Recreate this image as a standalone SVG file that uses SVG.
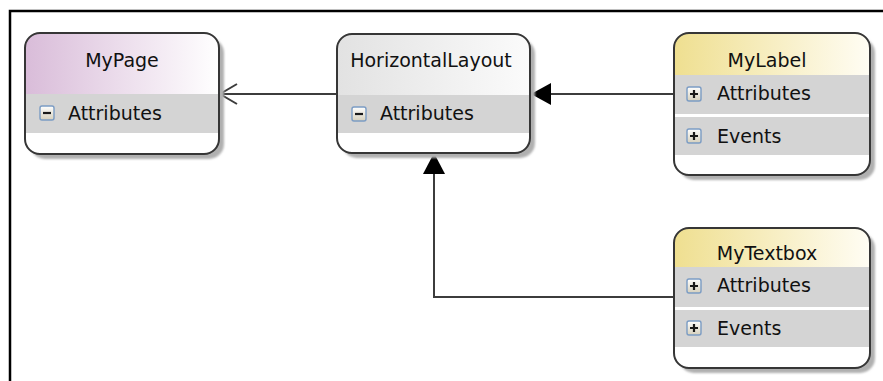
<svg xmlns="http://www.w3.org/2000/svg" width="883" height="381" viewBox="0 0 883 381">
  <style>
    .frame { stroke: #000; stroke-width: 2.5; fill: none; }
    .shadow { fill: #b0b0b0; filter: url(#soft); }
    .body { fill: #fff; }
    .outline { fill: none; stroke: #363636; stroke-width: 2; }
    .row { fill: #d4d4d4; }
    .title { font-family: "DejaVu Sans", "Liberation Sans", sans-serif; font-size: 19px; fill: #111; text-anchor: middle; }
    .item { font-family: "DejaVu Sans", "Liberation Sans", sans-serif; font-size: 19px; fill: #111; }
    .icon { fill: url(#iconFill); stroke: #7b9cc4; stroke-width: 1.4; }
    .sign { stroke: #1a1a1a; stroke-width: 2.2; }
    .wire { fill: none; stroke: #3c3c3c; stroke-width: 2; }
    .head { fill: #000; stroke: none; }
    .open { fill: none; stroke: #3c3c3c; stroke-width: 2; }
  </style>
  <defs>
    <filter id="soft" x="-10%" y="-10%" width="120%" height="120%">
      <feGaussianBlur stdDeviation="1.2"/>
    </filter>
    <linearGradient id="hdrPurple" x1="0" y1="0" x2="1" y2="0">
      <stop offset="0" stop-color="#d9bcd9"/>
      <stop offset="1" stop-color="#ffffff"/>
    </linearGradient>
    <linearGradient id="hdrGray" x1="0" y1="0" x2="1" y2="0">
      <stop offset="0" stop-color="#e2e2e2"/>
      <stop offset="1" stop-color="#fbfbfb"/>
    </linearGradient>
    <linearGradient id="hdrYellow" x1="0" y1="0" x2="1" y2="0">
      <stop offset="0" stop-color="#efdf90"/>
      <stop offset="1" stop-color="#fffdf4"/>
    </linearGradient>
    <linearGradient id="iconFill" x1="0" y1="0" x2="0" y2="1">
      <stop offset="0" stop-color="#ffffff"/>
      <stop offset="1" stop-color="#d6d0bc"/>
    </linearGradient>
    <clipPath id="clipPage"><rect x="25" y="33" width="194" height="121" rx="15"/></clipPath>
    <clipPath id="clipLayout"><rect x="337" y="34" width="193" height="119" rx="15"/></clipPath>
    <clipPath id="clipLabel"><rect x="674" y="33" width="196" height="142" rx="15"/></clipPath>
    <clipPath id="clipTextbox"><rect x="674" y="228" width="196" height="140" rx="15"/></clipPath>
  </defs>

  <rect width="883" height="381" fill="#fff"/>

  <!-- outer frame: top and left edges -->
  <path class="frame" d="M10 381 V11 H883"/>

  <!-- connectors -->
  <g id="connectors">
    <!-- HorizontalLayout to MyPage -->
    <path class="wire" d="M337 94 H220"/>
    <polyline class="open" points="237,84 220,94 237,104"/>
    <!-- MyLabel to HorizontalLayout -->
    <path class="wire" d="M674 94 H548"/>
    <polygon class="head" points="531,94 551,83 551,105"/>
    <!-- MyTextbox to HorizontalLayout -->
    <path class="wire" d="M674 297 H434 V172"/>
    <polygon class="head" points="434,153 423,174 445,174"/>
  </g>

  <!-- MyPage -->
  <g id="node-mypage">
    <rect class="shadow" x="30" y="38" width="194" height="121" rx="15"/>
    <rect class="body" x="25" y="33" width="194" height="121" rx="15"/>
    <g clip-path="url(#clipPage)">
      <rect x="25" y="33" width="194" height="61" fill="url(#hdrPurple)"/>
      <rect class="row" x="25" y="94" width="194" height="39"/>
    </g>
    <rect class="outline" x="25" y="33" width="194" height="121" rx="15"/>
    <text class="title" x="122" y="67">MyPage</text>
    <rect class="icon" x="40" y="106" width="14" height="14" rx="2"/>
    <path class="sign" d="M43 113 H51"/>
    <text class="item" x="68" y="120">Attributes</text>
  </g>

  <!-- HorizontalLayout -->
  <g id="node-horizontallayout">
    <rect class="shadow" x="342" y="39" width="193" height="119" rx="15"/>
    <rect class="body" x="337" y="34" width="193" height="119" rx="15"/>
    <g clip-path="url(#clipLayout)">
      <rect x="337" y="34" width="193" height="61" fill="url(#hdrGray)"/>
      <rect class="row" x="337" y="95" width="193" height="38"/>
    </g>
    <rect class="outline" x="337" y="34" width="193" height="119" rx="15"/>
    <text class="title" x="431" y="67">HorizontalLayout</text>
    <rect class="icon" x="352" y="107" width="14" height="14" rx="2"/>
    <path class="sign" d="M355 114 H363"/>
    <text class="item" x="380" y="120">Attributes</text>
  </g>

  <!-- MyLabel -->
  <g id="node-mylabel">
    <rect class="shadow" x="679" y="38" width="196" height="142" rx="15"/>
    <rect class="body" x="674" y="33" width="196" height="142" rx="15"/>
    <g clip-path="url(#clipLabel)">
      <rect x="674" y="33" width="196" height="42" fill="url(#hdrYellow)"/>
      <rect class="row" x="674" y="75" width="196" height="39"/>
      <rect class="row" x="674" y="117" width="196" height="38"/>
    </g>
    <rect class="outline" x="674" y="33" width="196" height="142" rx="15"/>
    <text class="title" x="767" y="67">MyLabel</text>
    <rect class="icon" x="687" y="87" width="14" height="14" rx="2"/>
    <path class="sign" d="M690 94 H698 M694 90 V98"/>
    <text class="item" x="717" y="100">Attributes</text>
    <rect class="icon" x="687" y="129" width="14" height="14" rx="2"/>
    <path class="sign" d="M690 136 H698 M694 132 V140"/>
    <text class="item" x="717" y="143">Events</text>
  </g>

  <!-- MyTextbox -->
  <g id="node-mytextbox">
    <rect class="shadow" x="679" y="233" width="196" height="140" rx="15"/>
    <rect class="body" x="674" y="228" width="196" height="140" rx="15"/>
    <g clip-path="url(#clipTextbox)">
      <rect x="674" y="228" width="196" height="39" fill="url(#hdrYellow)"/>
      <rect class="row" x="674" y="267" width="196" height="40"/>
      <rect class="row" x="674" y="310" width="196" height="37"/>
    </g>
    <rect class="outline" x="674" y="228" width="196" height="140" rx="15"/>
    <text class="title" x="767" y="260">MyTextbox</text>
    <rect class="icon" x="687" y="279" width="14" height="14" rx="2"/>
    <path class="sign" d="M690 286 H698 M694 282 V290"/>
    <text class="item" x="717" y="292">Attributes</text>
    <rect class="icon" x="687" y="321" width="14" height="14" rx="2"/>
    <path class="sign" d="M690 328 H698 M694 324 V332"/>
    <text class="item" x="717" y="335">Events</text>
  </g>
</svg>
